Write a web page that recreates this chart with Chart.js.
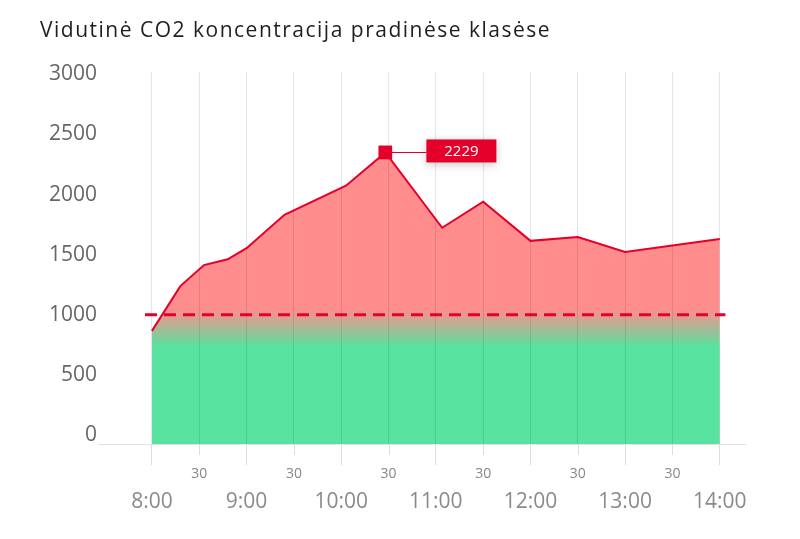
<!DOCTYPE html>
<html>
<head>
<meta charset="utf-8">
<script src="https://cdn.jsdelivr.net/npm/chart.js@4.4.0/dist/chart.umd.min.js"></script>
<style>
  html, body { margin: 0; padding: 0; background: #ffffff; }
  #wrap { width: 800px; height: 539px; }
</style>
</head>
<body>
<div id="wrap"><canvas id="c" width="800" height="539"></canvas></div>
<script>
// ---- data ----
const titleText = 'Vidutinė CO2 koncentracija pradinėse klasėse';
const times = ['8:00','8:18','8:33','8:48','9:00','9:24','10:03','10:28','11:04','11:30','12:00','12:30','13:00','14:00'];
const co2 = [865, 1207, 1368, 1412, 1497, 1752, 1975, 2229, 1653, 1852, 1553, 1583, 1468, 1568];
const yTicks = [0, 500, 1000, 1500, 2000, 2500, 3000];
const hourLabels = ['8:00','9:00','10:00','11:00','12:00','13:00','14:00'];
const halfHourLabel = '30';
const threshold = 1000;

const FONT = '"Open Sans", "Noto Sans", sans-serif';
const toMin = t => { const [h, m] = t.split(':').map(Number); return h * 60 + m - 480; };
const peak = co2.indexOf(Math.max(...co2));
const halfTicks = [];
for (let v = 0; v <= 360; v += 30) halfTicks.push(v);
const hourTicks = hourLabels.map((_, i) => i * 60);

const X_MIN = -34.2, X_MAX = 376;

const fillGradient = (ctx) => {
  const chart = ctx.chart;
  if (!chart.chartArea) return '#ff8d8d';
  const yv = chart.scales.yv;
  const top = yv.getPixelForValue(1030);
  const bot = yv.getPixelForValue(745);
  const g = chart.ctx.createLinearGradient(0, top, 0, bot);
  g.addColorStop(0, '#ff8d8d');
  g.addColorStop(1, '#58e29f');
  return g;
};

const titleSpacing = {
  id: 'titleSpacing',
  beforeDraw(chart) {
    const tb = chart.titleBlock;
    if (tb && !tb._spaced) {
      const orig = tb.draw;
      tb.draw = function (area) {
        const c = chart.ctx;
        const prev = c.letterSpacing;
        c.letterSpacing = '1.5px';
        orig.call(this, area);
        c.letterSpacing = prev || '0px';
      };
      tb._spaced = true;
    }
  }
};

const extras = {
  id: 'extras',
  afterDraw(chart) {
    const ctx = chart.ctx;
    const xs = chart.scales.x;
    const bottom = chart.chartArea.bottom;
    // half-hour short tick marks
    ctx.save();
    ctx.strokeStyle = '#dddddd';
    ctx.lineWidth = 1;
    halfTicks.forEach(v => {
      if (v % 60 === 0) return;
      const px = Math.round(xs.getPixelForValue(v)) + 0.5;
      ctx.beginPath();
      ctx.moveTo(px, bottom);
      ctx.lineTo(px, bottom + 11);
      ctx.stroke();
    });
    ctx.restore();

    // peak annotation
    const meta = chart.getDatasetMeta(1);
    const pt = meta.data[peak];
    const px = pt.x, py = pt.y;
    const bx = px + 41, by = py - 13, bw = 70, bh = 23;
    ctx.save();
    ctx.strokeStyle = '#e4002b';
    ctx.lineWidth = 1;
    ctx.beginPath();
    ctx.moveTo(px, Math.round(py) + 0.5);
    ctx.lineTo(bx, Math.round(py) + 0.5);
    ctx.stroke();
    ctx.shadowColor = 'rgba(0,0,0,0.22)';
    ctx.shadowBlur = 8;
    ctx.shadowOffsetY = 2;
    ctx.fillStyle = '#e4002b';
    ctx.fillRect(bx, by, bw, bh);
    ctx.shadowColor = 'transparent';
    ctx.fillStyle = '#ffffff';
    ctx.font = '15px ' + FONT;
    ctx.textAlign = 'center';
    ctx.textBaseline = 'middle';
    ctx.fillText(String(co2[peak]), bx + bw / 2, by + bh / 2 + 1);
    ctx.restore();
    pt.draw(ctx, chart.chartArea);
  }
};

new Chart(document.getElementById('c'), {
  type: 'line',
  data: {
    datasets: [
      {
        label: 'Riba',
        data: [{ x: -4.4, y: threshold }, { x: 363.6, y: threshold }],
        xAxisID: 'x',
        yAxisID: 'y',
        borderColor: '#e8002d',
        borderWidth: 3,
        borderDash: [12, 7],
        pointRadius: 0,
        fill: false,
        order: 0
      },
      {
        label: 'CO2',
        data: times.map((t, i) => ({ x: toMin(t), y: co2[i] })),
        xAxisID: 'x',
        yAxisID: 'yv',
        borderColor: '#e4002b',
        borderWidth: 2,
        tension: 0,
        fill: 'start',
        backgroundColor: fillGradient,
        pointStyle: 'rect',
        pointRadius: (c) => c.dataIndex === peak ? 9.5 : 0,
        pointHoverRadius: (c) => c.dataIndex === peak ? 9.5 : 0,
        pointBackgroundColor: '#e4002b',
        pointBorderColor: '#e4002b',
        pointBorderWidth: 0,
        order: 1
      }
    ]
  },
  options: {
    responsive: false,
    animation: false,
    devicePixelRatio: 1,
    layout: { padding: { left: 40, right: 55, top: 0, bottom: 18 } },
    plugins: {
      legend: { display: false },
      tooltip: { enabled: false },
      title: {
        display: true,
        text: titleText,
        align: 'start',
        color: '#1e1e1e',
        font: { family: FONT, size: 21, weight: '400' },
        padding: { top: 18, bottom: 28.8 }
      }
    },
    scales: {
      x: {
        type: 'linear',
        position: 'bottom',
        weight: 0,
        min: X_MIN,
        max: X_MAX,
        afterBuildTicks: (s) => { s.ticks = halfTicks.map(v => ({ value: v })); },
        ticks: {
          autoSkip: false,
          maxRotation: 0,
          padding: 1,
          color: '#888888',
          font: { family: FONT, size: 14 },
          callback: (v) => (v % 60 === 0 ? '' : halfHourLabel)
        },
        grid: {
          z: 1,
          color: 'rgba(0,0,0,0.1)',
          tickLength: 21,
          tickColor: (c) => (c.tick && c.tick.value % 60 === 0 ? '#dddddd' : 'rgba(0,0,0,0)')
        },
        border: { display: true, color: '#e2e2e2', z: 2 }
      },
      x2: {
        type: 'linear',
        position: 'bottom',
        weight: 1,
        min: X_MIN,
        max: X_MAX,
        afterBuildTicks: (s) => { s.ticks = hourTicks.map(v => ({ value: v })); },
        ticks: {
          autoSkip: false,
          maxRotation: 0,
          padding: 6,
          color: '#8a8a8a',
          font: { family: FONT, size: 21 },
          callback: (v) => hourLabels[v / 60]
        },
        grid: { display: false, drawTicks: false },
        border: { display: false }
      },
      y: {
        type: 'linear',
        position: 'left',
        min: -75,
        max: 3020,
        afterBuildTicks: (s) => { s.ticks = yTicks.map(v => ({ value: v })); },
        afterFit: (s) => { s.width = 58; },
        ticks: {
          padding: 1,
          color: '#666666',
          font: { family: FONT, size: 21 },
          callback: (v) => String(v)
        },
        grid: { display: false, drawTicks: false },
        border: { display: false }
      },
      yv: {
        type: 'linear',
        display: false,
        min: 0,
        max: 2844
      }
    }
  },
  plugins: [titleSpacing, extras]
});
</script>
</body>
</html>
